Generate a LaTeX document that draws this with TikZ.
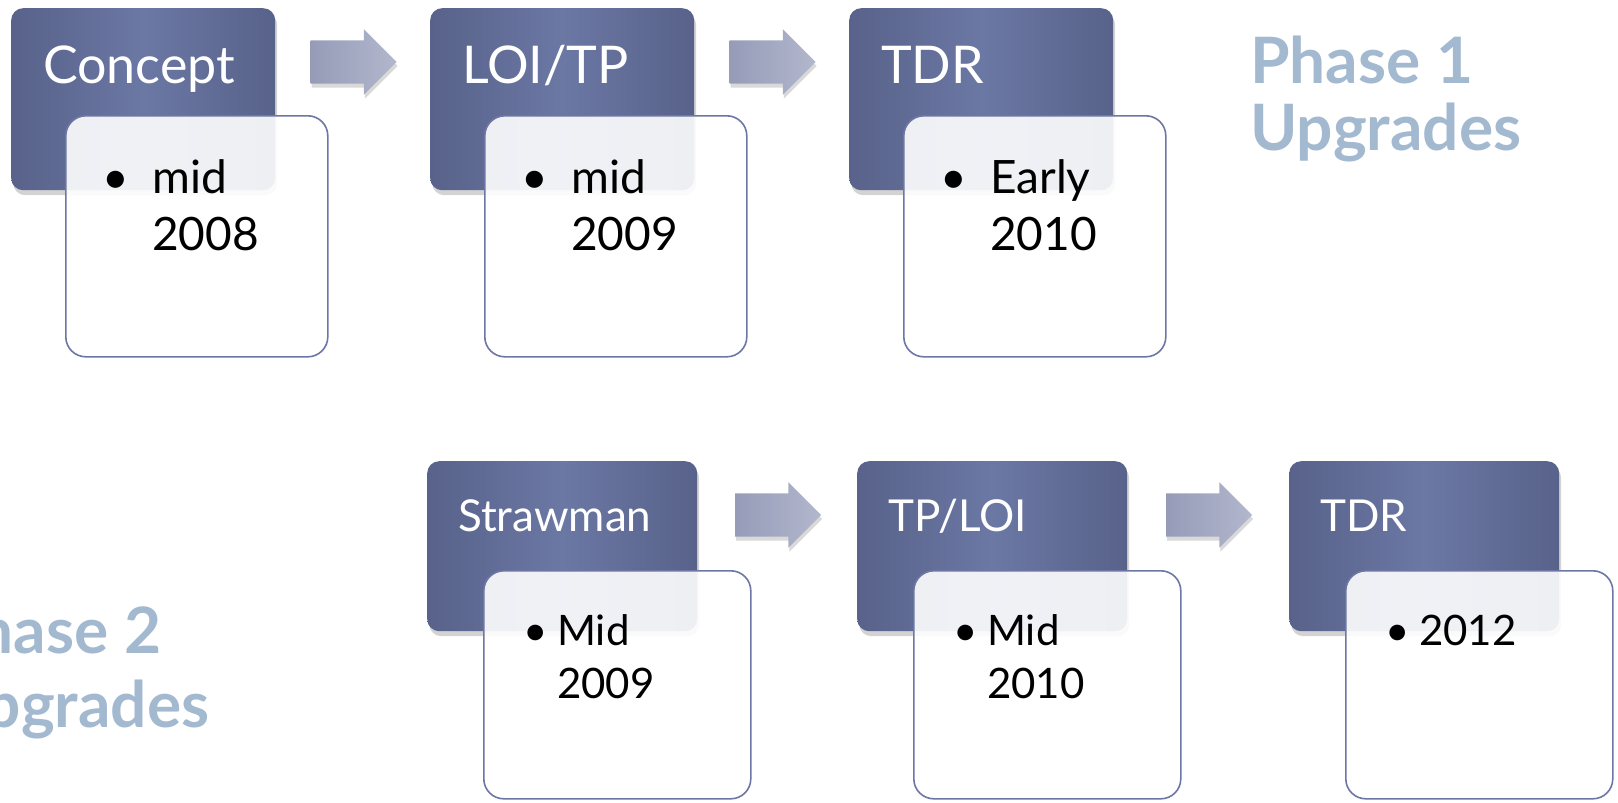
\documentclass[tikz,border=0pt]{standalone}
\usepackage{fontspec}
\setmainfont{Lato}
\usetikzlibrary{shapes.arrows,shadows,calc,positioning}

\definecolor{hdrdark}{RGB}{88,98,138}
\definecolor{hdrlight}{RGB}{107,120,164}
\definecolor{boxline}{RGB}{110,118,166}
\definecolor{arrowdark}{RGB}{150,156,184}
\definecolor{arrowlight}{RGB}{178,183,205}
\definecolor{phaseblue}{RGB}{163,185,207}

\begin{document}
\begin{tikzpicture}[x=1pt,y=-1pt,
  every node/.style={inner sep=0pt},
  stagebox/.style={rounded corners=12pt, anchor=north west,
    left color=hdrdark, right color=hdrdark, middle color=hdrlight,
    drop shadow={opacity=0.35, shadow xshift=2pt, shadow yshift=-5pt}},
  datebox/.style={rounded corners=20pt, anchor=north west, draw=boxline,
    line width=1.6pt, fill=white, fill opacity=0.9},
  stagetitle/.style={text=white, anchor=base west},
  datetext/.style={anchor=base west},
  steparrow/.style={single arrow, single arrow head extend=11pt,
    inner xsep=0pt, inner ysep=21.5pt, minimum height=86pt, xshift=-10pt,
    left color=arrowdark, right color=arrowlight,
    drop shadow={opacity=0.3, shadow xshift=1pt, shadow yshift=-4pt}},
  phaselabel/.style={text=phaseblue, anchor=base west}]
  \useasboundingbox (0,0) rectangle (1618,803);
  \clip (0,0) rectangle (1618,803);

  % phase 1 row
  \node[stagebox, minimum width=264pt, minimum height=182pt] (h1) at (11,8) {};
  \node[stagebox, minimum width=264pt, minimum height=182pt] (h2) at (430,8) {};
  \node[stagebox, minimum width=264pt, minimum height=182pt] (h3) at (849,8) {};
  \node[steparrow] (a1) at ($(h1.north east)!0.5!(h2.north west)+(0,54)$) {};
  \node[steparrow] (a2) at ($(h2.north east)!0.5!(h3.north west)+(0,54)$) {};
  \node[stagetitle, font=\fontsize{52}{60}\selectfont] (t1) at ([shift={(32,75)}]h1.north west) {Concept};
  \node[stagetitle, font=\fontsize{52}{60}\selectfont] (t2) at ([shift={(32,75)}]h2.north west) {LOI/TP};
  \node[stagetitle, font=\fontsize{52}{60}\selectfont] (t3) at ([shift={(32,75)}]h3.north west) {TDR};
  \node[datebox, minimum width=262pt, minimum height=241pt] (d1) at ([shift={(54,107)}]h1.north west) {};
  \node[datebox, minimum width=262pt, minimum height=241pt] (d2) at ([shift={(54,107)}]h2.north west) {};
  \node[datebox, minimum width=262pt, minimum height=241pt] (d3) at ([shift={(54,107)}]h3.north west) {};
  \node[datetext, font=\fontsize{46}{57}\selectfont] (e1) at ([shift={(37,78)}]d1.north west)
    {\begin{tabular}[t]{@{}p{50pt}@{}l@{}}\textbullet & mid\\ & 2008\end{tabular}};
  \node[datetext, font=\fontsize{46}{57}\selectfont] (e2) at ([shift={(37,78)}]d2.north west)
    {\begin{tabular}[t]{@{}p{50pt}@{}l@{}}\textbullet & mid\\ & 2009\end{tabular}};
  \node[datetext, font=\fontsize{46}{57}\selectfont] (e3) at ([shift={(37,78)}]d3.north west)
    {\begin{tabular}[t]{@{}p{50pt}@{}l@{}}\textbullet & Early\\ & 2010\end{tabular}};
  \node[phaselabel, font=\bfseries\fontsize{64}{65}\selectfont] (p1) at (1250,83)
    {\begin{tabular}[t]{@{}l@{}}Phase 1\\Upgrades\end{tabular}};

  % phase 2 row
  \node[stagebox, minimum width=270pt, minimum height=170pt] (h4) at (427,461) {};
  \node[stagebox, minimum width=270pt, minimum height=170pt] (h5) at (857,461) {};
  \node[stagebox, minimum width=270pt, minimum height=170pt] (h6) at (1289,461) {};
  \node[steparrow] (a3) at ($(h4.north east)!0.5!(h5.north west)+(0,54)$) {};
  \node[steparrow] (a4) at ($(h5.north east)!0.5!(h6.north west)+(0,54)$) {};
  \node[stagetitle, font=\fontsize{44}{52}\selectfont] (t4) at ([shift={(31,70)}]h4.north west) {Strawman};
  \node[stagetitle, font=\fontsize{44}{52}\selectfont] (t5) at ([shift={(31,70)}]h5.north west) {TP/LOI};
  \node[stagetitle, font=\fontsize{44}{52}\selectfont] (t6) at ([shift={(31,70)}]h6.north west) {TDR};
  \node[datebox, minimum width=267pt, minimum height=228pt] (d4) at ([shift={(56,109)}]h4.north west) {};
  \node[datebox, minimum width=267pt, minimum height=228pt] (d5) at ([shift={(56,109)}]h5.north west) {};
  \node[datebox, minimum width=267pt, minimum height=228pt] (d6) at ([shift={(56,109)}]h6.north west) {};
  \node[datetext, font=\fontsize{42}{53}\selectfont] (e4) at ([shift={(40,75)}]d4.north west)
    {\begin{tabular}[t]{@{}p{34pt}@{}l@{}}\textbullet & Mid\\ & 2009\end{tabular}};
  \node[datetext, font=\fontsize{42}{53}\selectfont] (e5) at ([shift={(40,75)}]d5.north west)
    {\begin{tabular}[t]{@{}p{34pt}@{}l@{}}\textbullet & Mid\\ & 2010\end{tabular}};
  \node[datetext, font=\fontsize{42}{53}\selectfont] (e6) at ([shift={(40,75)}]d6.north west)
    {\begin{tabular}[t]{@{}p{34pt}@{}l@{}}\textbullet & 2012\end{tabular}};
  \node[phaselabel, font=\bfseries\fontsize{64}{74}\selectfont] (p2) at (-62,653)
    {\begin{tabular}[t]{@{}l@{}}Phase 2\\Upgrades\end{tabular}};
\end{tikzpicture}
\end{document}
